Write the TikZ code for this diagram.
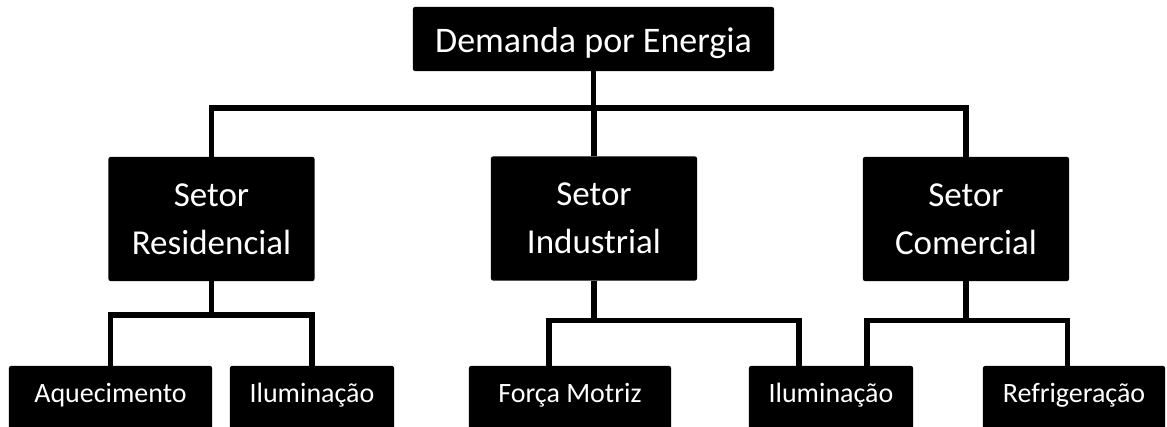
\documentclass[tikz,border=0pt]{standalone}
\usepackage{fontspec}
\setmainfont{Carlito}
\usetikzlibrary{positioning}

\tikzset{
    caixa/.style = {fill = black, text = white, rounded corners = .05cm, inner sep = 0pt, outer sep = 0pt},
    raiz/.style = {caixa, anchor = base, minimum width = 9.025cm, text height = 1.15cm, text depth = .45cm, font = \fontsize{25.6}{30}\selectfont},
    setor/.style = {caixa, align = center, minimum width = 5.15cm, minimum height = 3.1cm, font = \fontsize{24.9}{34}\selectfont},
    uso/.style = {caixa, anchor = base, text height = .9cm, text depth = 1cm, font = \fontsize{19.9}{24}\selectfont},
    ligacao/.style = {line width = 3.6pt, black, line join = miter}
}

\begin{document}
\begin{tikzpicture}[x = .025cm, y = -.025cm]
            \clip (0, 0) rectangle (1167, 427);

            \node[raiz] (demanda) at (593.5, 53) {Demanda por Energia};

            \node[setor] (residencial) at (211.5, 219) {Setor\\Residencial};
            \node[setor] (industrial) at (594, 218.5) {Setor\\Industrial};
            \node[setor] (comercial) at (966, 219) {Setor\\Comercial};

            \foreach \nome/\rotulo/\xi/\largura in {aquecimento/Aquecimento/110.5/5.075, iluminacaoA/Iluminação/312/4.1, forca/Força Motriz/570/5.05, iluminacaoB/Iluminação/831/4.1, refrigeracao/Refrigeração/1074/4.55}
                {
                    \node[uso, minimum width = \largura cm] (\nome) at (\xi, 402) {\rotulo};
                }

            \foreach \setor in {residencial, industrial, comercial}
                {
                    \draw[ligacao] (demanda.south) -- ++(0, 37) -| (\setor.north);
                }

            \draw[ligacao] (residencial.south) -- ++(0, 34) -| (aquecimento.north);
            \draw[ligacao] (residencial.south) -- ++(0, 34) -| (iluminacaoA.north);
            \draw[ligacao] (industrial.south) -- ++(0, 40) -| ([xshift = -.525cm]forca.north);
            \draw[ligacao] (industrial.south) -- ++(0, 40) -| ([xshift = -.8cm]iluminacaoB.north);
            \draw[ligacao] (comercial.south) -- ++(0, 39.5) -| ([xshift = .9cm]iluminacaoB.north);
            \draw[ligacao] (comercial.south) -- ++(0, 39.5) -| ([xshift = -.16cm]refrigeracao.north);
        \end{tikzpicture}
\end{document}
